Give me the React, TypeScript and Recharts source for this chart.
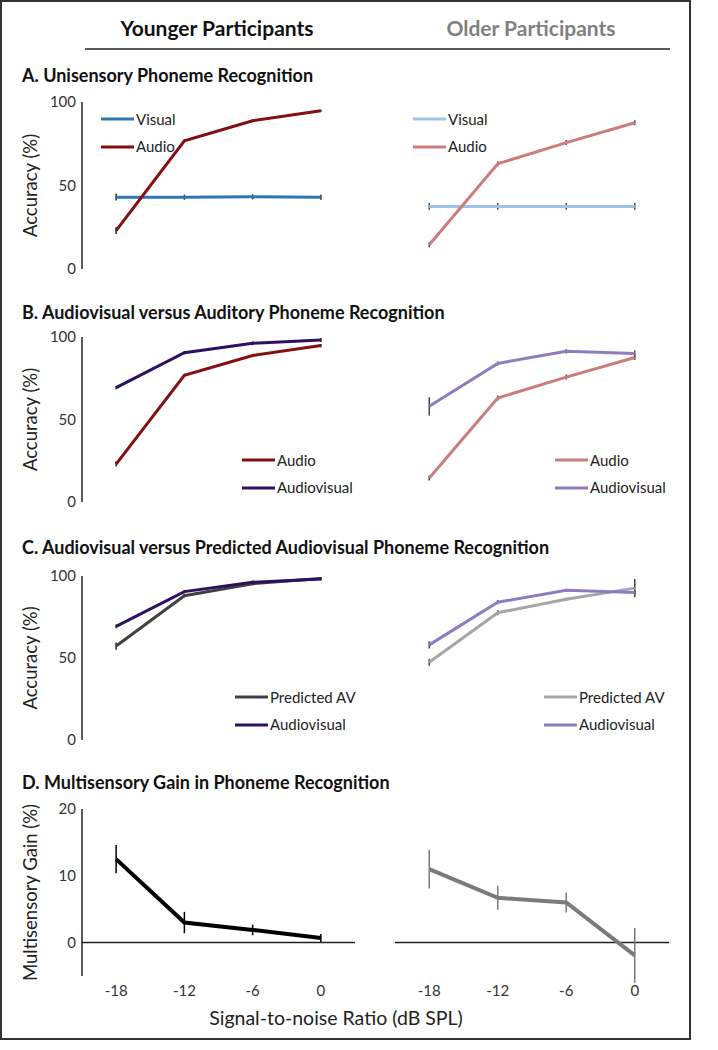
import React from 'react';
import { LineChart, Line, XAxis, YAxis, ErrorBar, ReferenceLine, Legend } from 'recharts';

const FONT = 'Lato, "Open Sans", sans-serif';

const snrLevels = [-18, -12, -6, 0];
const snrTicks = [-18, -12, -6, 0];
const accuracyTicks = [0, 50, 100];
const gainTicks = [0, 10, 20];

// A. Unisensory
const youngVisual = [43, 43, 43.2, 43];
const youngVisualErr = [2, 1.5, 1.5, 1.5];
const youngAudio = [23, 76.8, 88.8, 94.8];
const youngAudioErr = [2, 1, 0.8, 0.6];
const oldVisual = [37.5, 37.5, 37.5, 37.5];
const oldVisualErr = [2, 2, 2, 2];
const oldAudio = [14.5, 63, 75.7, 87.6];
const oldAudioErr = [1.5, 1.5, 1.5, 1.5];

// B. Audiovisual vs auditory
const youngAV = [69.3, 90.5, 96.2, 98.2];
const youngAVErrB = [1, 1, 1.2, 1.2];
const youngAudioErrB = [1.5, 1, 1, 1];
const oldAV = [58, 84, 91.3, 90];
const oldAVErrB = [5.5, 1.2, 1.3, 1.8];
const oldAudioErrB = [1.5, 1.5, 1.5, 1.5];

// C. Audiovisual vs predicted
const youngPred = [57.3, 88, 95.3, 98.5];
const youngPredErr = [2.2, 1, 1, 0.8];
const youngAVErrC = [1.2, 1, 1, 1];
const oldPred = [47.4, 77.6, 85.8, 92.6];
const oldPredErr = [2.2, 1.5, 1, 5.5];
const oldAVErrC = [2.2, 1.3, 1, 1.5];

// D. Multisensory gain
const youngGain = [12.5, 3.0, 1.9, 0.7];
const youngGainErr = [2.1, 1.6, 0.8, 0.6];
const oldGain = [11.0, 6.7, 6.0, -1.9];
const oldGainErr = [2.9, 1.8, 1.5, 4.1];

const C = {
  yVisual: '#2e75b6',
  yAudio: '#850f0f',
  yAV: '#2e1060',
  yPred: '#404040',
  oVisual: '#9dc3e6',
  oAudio: '#cb7c7c',
  oAV: '#8f7cc0',
  oPred: '#a6a6a6',
  yGain: '#000000',
  oGain: '#7a7a7a',
};

type Series = { key: string; name: string; color: string; values: number[]; errors: number[]; errColor: string; width?: number };

function buildData(series: Series[]) {
  return snrLevels.map((x, i) => {
    const row: any = { snr: x };
    series.forEach((s) => {
      row[s.key] = s.values[i];
      row[s.key + 'Err'] = s.errors[i];
    });
    return row;
  });
}

function LegendBox({ items }: { items: Series[] }) {
  return (
    <div style={{ fontFamily: FONT }}>
      {items.map((s) => (
        <div key={s.key} style={{ height: 27.5, display: 'flex', alignItems: 'center' }}>
          <svg width={33} height={4} style={{ display: 'block' }}>
            <line x1={0} y1={2} x2={33} y2={2} stroke={s.color} strokeWidth={3} />
          </svg>
          <span style={{ marginLeft: 2, fontSize: 15, color: '#222', lineHeight: '15px' }}>{s.name}</span>
        </div>
      ))}
    </div>
  );
}

type PanelProps = {
  x: number;
  width: number;
  top: number;
  plotTop: number;
  plotBottom: number;
  isLeft: boolean;
  series: Series[];
  legend?: { x: number; y: number };
  domain: [number, number];
  ticks: number[];
  gain?: boolean;
};

function Panel({ x, width, top, plotTop, plotBottom, isLeft, series, legend, domain, ticks, gain }: PanelProps) {
  const xAxisH = gain ? 30 : 0;
  const bottomPad = 12;
  const height = plotBottom - top + xAxisH + bottomPad;
  const margin = { top: plotTop - top, bottom: bottomPad, left: isLeft ? 22 : 35, right: isLeft ? 5 : 21 };
  const data = buildData(series);
  return (
    <div style={{ position: 'absolute', left: x, top, width, height }}>
      <LineChart width={width} height={height} data={data} margin={margin}>
        {gain && <ReferenceLine y={0} stroke="#222" strokeWidth={1.5} />}
        <XAxis
          type="number"
          dataKey="snr"
          domain={[-21, 3]}
          ticks={snrTicks}
          allowDataOverflow
          height={xAxisH}
          axisLine={gain ? false : { stroke: '#222', strokeWidth: 1.5 }}
          tickLine={false}
          tickSize={0}
          tickMargin={9}
          tick={gain ? { fontSize: 15, fill: '#333', fontFamily: FONT } : false}
        />
        <YAxis
          type="number"
          domain={domain}
          ticks={ticks}
          allowDataOverflow
          width={isLeft ? 60 : 0}
          axisLine={{ stroke: '#222', strokeWidth: 1.5 }}
          tickLine={false}
          tickSize={0}
          tickMargin={6}
          tick={isLeft ? { fontSize: 15, fill: '#333', fontFamily: FONT } : false}
        />
        {series.map((s) => (
          <Line
            key={s.key}
            dataKey={s.key}
            name={s.name}
            stroke={s.color}
            strokeWidth={s.width ?? 3}
            dot={false}
            activeDot={false}
            isAnimationActive={false}
          >
            <ErrorBar dataKey={s.key + 'Err'} width={0} stroke={s.errColor} strokeWidth={1.5} direction="y" />
          </Line>
        ))}
        {legend && (
          <Legend
            layout="horizontal"
            verticalAlign="middle"
            align="center"
            wrapperStyle={{ left: legend.x - x, top: legend.y - 13.75 - top, width: 'auto', height: 'auto' }}
            content={() => <LegendBox items={series} />}
          />
        )}
      </LineChart>
    </div>
  );
}

const rows = [
  { top: 90, plotTop: 102, plotBottom: 269 },
  { top: 325, plotTop: 337, plotBottom: 502 },
  { top: 564, plotTop: 576, plotBottom: 740 },
  { top: 797, plotTop: 809, plotBottom: 976 },
];

const titles = [
  'A. Unisensory Phoneme Recognition',
  'B. Audiovisual versus Auditory Phoneme Recognition',
  'C. Audiovisual versus Predicted Audiovisual Phoneme Recognition',
  'D. Multisensory Gain in Phoneme Recognition',
];
const titleY = [75, 312, 547, 782];

export default function App() {
  const L = { x: 0, width: 360, isLeft: true };
  const R = { x: 360, width: 330, isLeft: false };
  const yErr = '#222';
  const oErr = '#444';

  const aY: Series[] = [
    { key: 'visual', name: 'Visual', color: C.yVisual, values: youngVisual, errors: youngVisualErr, errColor: yErr },
    { key: 'audio', name: 'Audio', color: C.yAudio, values: youngAudio, errors: youngAudioErr, errColor: yErr },
  ];
  const aO: Series[] = [
    { key: 'visual', name: 'Visual', color: C.oVisual, values: oldVisual, errors: oldVisualErr, errColor: oErr },
    { key: 'audio', name: 'Audio', color: C.oAudio, values: oldAudio, errors: oldAudioErr, errColor: oErr },
  ];
  const bY: Series[] = [
    { key: 'audio', name: 'Audio', color: C.yAudio, values: youngAudio, errors: youngAudioErrB, errColor: yErr },
    { key: 'av', name: 'Audiovisual', color: C.yAV, values: youngAV, errors: youngAVErrB, errColor: yErr },
  ];
  const bO: Series[] = [
    { key: 'audio', name: 'Audio', color: C.oAudio, values: oldAudio, errors: oldAudioErrB, errColor: oErr },
    { key: 'av', name: 'Audiovisual', color: C.oAV, values: oldAV, errors: oldAVErrB, errColor: oErr },
  ];
  const cY: Series[] = [
    { key: 'pred', name: 'Predicted AV', color: C.yPred, values: youngPred, errors: youngPredErr, errColor: yErr },
    { key: 'av', name: 'Audiovisual', color: C.yAV, values: youngAV, errors: youngAVErrC, errColor: yErr },
  ];
  const cO: Series[] = [
    { key: 'pred', name: 'Predicted AV', color: C.oPred, values: oldPred, errors: oldPredErr, errColor: oErr },
    { key: 'av', name: 'Audiovisual', color: C.oAV, values: oldAV, errors: oldAVErrC, errColor: oErr },
  ];
  const dY: Series[] = [
    { key: 'gain', name: 'Gain', color: C.yGain, values: youngGain, errors: youngGainErr, errColor: '#000', width: 4 },
  ];
  const dO: Series[] = [
    { key: 'gain', name: 'Gain', color: C.oGain, values: oldGain, errors: oldGainErr, errColor: '#7a7a7a', width: 4 },
  ];

  return (
    <div style={{ position: 'absolute', left: 0, top: 0, width: 718, height: 1050, background: '#fff', fontFamily: FONT }}>
      <svg width={718} height={1050} style={{ position: 'absolute', left: 0, top: 0 }}>
        <rect x={1} y={1} width={689} height={1038} fill="none" stroke="#333" strokeWidth={2} />
        <text x={217} y={27} textAnchor="middle" dominantBaseline="central" fontSize={21} fontWeight={700} fill="#111" fontFamily={FONT}>
          Younger Participants
        </text>
        <text x={531} y={27} textAnchor="middle" dominantBaseline="central" fontSize={21} fontWeight={700} fill="#808080" fontFamily={FONT}>
          Older Participants
        </text>
        <line x1={85} y1={49} x2={670} y2={49} stroke="#222" strokeWidth={1.5} />
        {titles.map((t, i) => (
          <text key={t} x={22} y={titleY[i]} dominantBaseline="central" fontSize={18} fontWeight={700} fill="#111" fontFamily={FONT}>
            {t}
          </text>
        ))}
        {rows.map((r, i) => {
          const cy = (r.plotTop + r.plotBottom) / 2;
          return (
            <text
              key={i}
              x={30}
              y={cy}
              transform={`rotate(-90, 30, ${cy})`}
              textAnchor="middle"
              dominantBaseline="central"
              fontSize={18.5}
              fill="#222"
              fontFamily={FONT}
            >
              {i === 3 ? 'Multisensory Gain (%)' : 'Accuracy (%)'}
            </text>
          );
        })}
        <text x={336} y={1017} textAnchor="middle" dominantBaseline="central" fontSize={19.5} fill="#222" fontFamily={FONT}>
          Signal-to-noise Ratio (dB SPL)
        </text>
      </svg>

      <Panel {...L} {...rows[0]} series={aY} legend={{ x: 101, y: 119 }} domain={[0, 100]} ticks={accuracyTicks} />
      <Panel {...R} {...rows[0]} series={aO} legend={{ x: 413, y: 119 }} domain={[0, 100]} ticks={accuracyTicks} />
      <Panel {...L} {...rows[1]} series={bY} legend={{ x: 242, y: 460 }} domain={[0, 100]} ticks={accuracyTicks} />
      <Panel {...R} {...rows[1]} series={bO} legend={{ x: 555, y: 460 }} domain={[0, 100]} ticks={accuracyTicks} />
      <Panel {...L} {...rows[2]} series={cY} legend={{ x: 235, y: 697 }} domain={[0, 100]} ticks={accuracyTicks} />
      <Panel {...R} {...rows[2]} series={cO} legend={{ x: 544, y: 697 }} domain={[0, 100]} ticks={accuracyTicks} />
      <Panel {...L} {...rows[3]} series={dY} domain={[-5, 20]} ticks={gainTicks} gain />
      <Panel {...R} {...rows[3]} series={dO} domain={[-5, 20]} ticks={gainTicks} gain />
    </div>
  );
}
